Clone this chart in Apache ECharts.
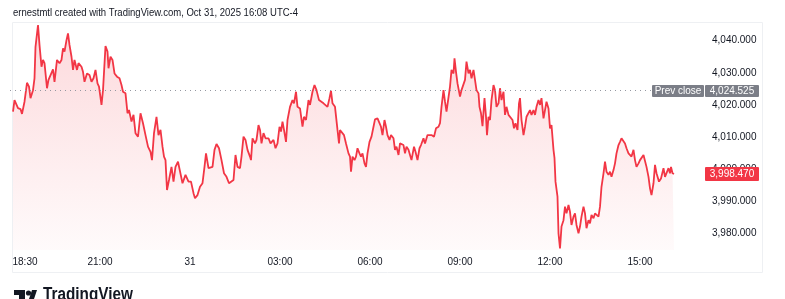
<!DOCTYPE html>
<html>
<head>
<meta charset="utf-8">
<script src="https://cdn.jsdelivr.net/npm/echarts@6/dist/echarts.min.js"></script>
<style>
html,body{margin:0;padding:0;background:#fff;}
#chart{width:785px;height:299px;}
</style>
</head>
<body>
<div id="chart"></div>
<script>
// minutes since 18:00 (Oct 30)
const timeMin = [
 6,9,13,16,21,24,29,34,38,41, 46,49,51,54,56,59,63,66,69,74,
 77,81,86,89,94,99,103,106,109,113, 116,119,123,126,129,134,137,143,146,149,
 154,159,163,167,171,175,178,183,186,191, 195,197,201,205,209,214,219,223,226,231,
 235,238,243,247,251,256,261,266,271,276, 281,284,288,293,297,301,305,308,311,314,
 318,323,327,331,336,
 340,345,351,357,362,367,370,375,380,385, 389,392,397,401,405,409,413,418,423,428,
 433,438,442,447,451,455,460,463,467,471, 475,480,482,485,490,493,497,500,503,507,
 511,517,521,527,531,535,539,542,545,548, 552,555,560,565,568,572,575,580,585,588,
 592,597,600,605,609,613,618,622,627,631, 635,639,642,645,650,655,658,
 660,663,668,672,677,680,682,685,689,692, 695,699,702,705,709,712,715,719,723,727,
 730,735,739,742,745,749,752,755,759,762, 767,770,773,777,780,783,787,790,793,797,
 800,803,808,811,815,819,822,827,830,835, 839,843,848,852,857,860,863,867,870,873,
 877,880,883,887,889,892,895,900,903,907, 910,913,917,920,923,927,930,933,937,939,
 942,945,949,952,954,957,960,963,967,970, 973,977,980,
 983,987,990,993,997,1001,1005,1008,1011,1015, 1018,1020,1023,1027,1030,1033,1037,1040,1043,1047,
 1050,1053,1057,1060,1063,1067,1070,1073,1077,1080, 1083,1087,1089,1091,1095,1097,1100,1103,1107,1110,
 1113,1117,1120,1123,1127,1130,1133,1137,1140,1143, 1147,1150,1153,1157,1160,1163,1167,1170,1173,1177,
 1180,1183,1187,1190,1193,1197,1200,1203,1207,1210, 1213,1217,1220,1223,1227,1230,1233,1237,1240,1243,
 1247,1250,1253,1257,1260,1263,1267,1270,1273,1277, 1280,1283,1287,1290,1293,1298,1302,1307,1310,1313,
 1317,1320,1322,1325,1328
];
const price = [
 4017.9,4021.5,4022.1,4019.0,4018.7,4017.2,4021.0,4026.9,4025.7,4022.1, 4024.6,4028.3,4038.1,4038.7,4044.9,4038.7,4031.9,4034.0,4033.0,4025.2,
 4027.8,4027.2,4031.1,4027.2,4034.0,4033.0,4034.0,4037.6,4036.6,4040.2, 4042.3,4038.7,4035.0,4030.9,4034.0,4030.9,4033.0,4031.9,4030.3,4027.2,
 4029.8,4029.3,4027.2,4028.3,4030.9,4026.7,4025.7,4020.0,4024.6,4038.3, 4036.6,4031.4,4035.0,4034.0,4029.8,4028.8,4028.3,4026.2,4024.1,4023.6,
 4017.4,4018.4,4014.8,4016.9,4011.2,4010.1,4017.4,4014.3,4010.6,4007.0, 4005.4,4002.8,4011.2,4016.3,4010.6,4012.2,4007.0,4003.9,4002.8,3993.5,
 3996.6,4000.7,3996.1,4000.7,4002.3,
 4002.3,3995.6,3998.2,3996.1,3996.1,3992.5,3990.9,3991.9,3994.5,3995.6, 4000.7,4004.9,4000.3,4000.3,4000.7,4006.0,4007.8,4006.5,4002.8,3998.7,
 3997.6,3995.6,3995.0,3996.6,4004.4,4000.7,4000.3,4003.9,4010.1,4009.1, 4006.0,4003.9,4002.8,4009.6,4008.0,4009.1,4013.7,4012.2,4008.0,4011.2,
 4009.6,4009.6,4008.0,4009.1,4006.5,4008.0,4013.2,4011.7,4014.8,4012.2, 4008.5,4015.3,4019.4,4021.5,4020.5,4024.1,4019.4,4018.9,4013.2,4016.3,
 4015.3,4021.5,4020.0,4024.1,4026.2,4024.6,4021.5,4022.1,4020.5,4021.0, 4019.4,4022.1,4024.4,4020.5,4019.4,4012.2,4008.0,
 4012.2,4012.7,4010.6,4008.0,4004.9,4003.9,3999.2,4003.9,4002.8,4003.9, 4006.5,4004.9,4003.9,4004.9,4001.8,4000.7,4004.9,4008.5,4010.1,4013.2,
 4015.5,4015.8,4014.3,4013.2,4010.6,4015.3,4013.2,4010.6,4009.1,4010.6, 4009.6,4006.0,4007.0,4004.4,4008.0,4008.5,4007.5,4004.9,4007.0,4006.0,
 4004.4,4002.8,4007.0,4005.4,4002.8,4006.5,4007.5,4009.6,4008.0,4010.6, 4010.1,4010.6,4010.1,4012.7,4013.2,4014.3,4019.4,4024.6,4021.0,4017.9,
 4017.9,4025.7,4030.9,4029.8,4034.5,4030.3,4026.7,4022.6,4024.6,4024.1, 4027.8,4033.5,4029.8,4030.9,4028.3,4030.9,4027.8,4024.6,4023.6,4019.4,
 4017.4,4013.4,4022.1,4016.3,4010.6,4016.3,4015.3,4021.5,4026.2,4024.6, 4019.4,4020.5,4025.2,
 4021.5,4024.1,4016.9,4019.4,4016.9,4017.4,4015.3,4012.7,4014.3,4012.2, 4020.5,4022.1,4015.3,4010.6,4013.2,4016.3,4015.8,4018.4,4016.9,4018.4,
 4016.9,4019.4,4021.5,4020.0,4022.1,4015.8,4018.4,4021.0,4018.9,4012.7, 4013.7,4006.0,4003.4,3996.1,3991.4,3980.0,3975.3,3982.1,3984.1,3988.3,
 3986.2,3988.8,3986.7,3982.6,3985.2,3986.2,3982.6,3980.0,3982.1,3985.2, 3988.3,3986.2,3981.6,3984.1,3983.1,3985.7,3984.7,3986.2,3986.7,3985.2,
 3988.3,3994.5,3998.7,4002.3,3999.2,3998.2,3999.2,3997.6,3999.7,4001.8, 4004.9,4007.5,4008.5,4009.6,4009.1,4008.0,4006.5,4004.9,4005.4,4003.9,
 4006.0,4002.8,4000.7,4001.8,4002.8,4002.3,4004.4,4003.9,4000.7,3997.6, 3994.0,3991.9,3995.6,4001.3,3998.7,3996.1,3997.1,4000.3,3997.6,3997.6,
 4000.3,3998.7,4000.7,3998.7,3998.47
];
const xTickValues = [30,180,360,540,720,900,1080,1260];
const xTickLabels = ['18:30','21:00','31','03:00','06:00','09:00','12:00','15:00'];
const yTickValues = [3980,3990,4000,4010,4020,4030,4040];
const prevClose = 4024.525;
const lastPrice = 3998.470;
const titleText = 'ernestmtl created with TradingView.com, Oct 31, 2025 16:08 UTC-4';

const FONT = "'Liberation Sans', sans-serif";
const fmt = v => v.toLocaleString('en-US',{minimumFractionDigits:3, maximumFractionDigits:3});

const chart = echarts.init(document.getElementById('chart'), null, {renderer:'canvas'});
const seriesData = timeMin.map((t,i)=>[t, price[i]]);

const option = {
  animation:false,
  backgroundColor:'#ffffff',
  grid:{left:10, top:22, width:690, height:228, containLabel:false},
  xAxis:{
    type:'value', min:0, max:1380,
    axisLine:{show:false}, axisTick:{show:false}, splitLine:{show:false},
    axisLabel:{
      customValues:xTickValues,
      formatter:v=>{const i=xTickValues.indexOf(v);return i>=0?xTickLabels[i]:'';},
      color:'#131722', fontSize:10, fontFamily:FONT, margin:7
    }
  },
  yAxis:{
    type:'value', position:'right', min:3974.8, max:4045.83, scale:true,
    axisLine:{show:false}, axisTick:{show:false}, splitLine:{show:false},
    axisLabel:{
      customValues:yTickValues,
      formatter:v=>fmt(v),
      color:'#131722', fontSize:10, fontFamily:FONT, margin:12, align:'left'
    }
  },
  series:[{
    type:'line', data:seriesData, showSymbol:false, symbol:'none',
    lineStyle:{color:'#f23645', width:1.8},
    itemStyle:{color:'#f23645'},
    areaStyle:{
      origin:'start',
      color:new echarts.graphic.LinearGradient(0,0,0,1,[
        {offset:0,color:'rgba(242,54,69,0.27)'},
        {offset:1,color:'rgba(242,54,69,0.03)'}
      ])
    },
    markLine:{
      silent:true, symbol:['none','none'],
      lineStyle:{color:'#9598a1', type:[1,4], width:1},
      label:{show:false},
      data:[{yAxis:prevClose}]
    },
    z:3
  }]
};
chart.setOption(option);

const yPrev = Math.round(chart.convertToPixel({yAxisIndex:0}, prevClose)) + 1;
const yLast = Math.round(chart.convertToPixel({yAxisIndex:0}, lastPrice));

chart.setOption({
  graphic:[
    // panel border
    {type:'rect', z:0, silent:true, shape:{x:12.5,y:22.5,width:750,height:250},
     style:{fill:'none', stroke:'#eef0f3', lineWidth:1}},
    // title
    {type:'text', x:13, y:7, scaleX:0.865, z:10,
     style:{text:titleText, fill:'#131722', font:"11px 'Liberation Sans', sans-serif"}},
    // prev close tag
    {type:'rect', z:20, shape:{x:652, y:yPrev-6, width:52, height:12, r:1},
     style:{fill:'#7b7e87'}},
    {type:'text', z:21, x:678, y:yPrev+0.5,
     style:{text:'Prev close', fill:'#ffffff', font:"10px "+FONT, align:'center', verticalAlign:'middle'}},
    {type:'rect', z:20, shape:{x:705, y:yPrev-6, width:54, height:12, r:1},
     style:{fill:'#7b7e87'}},
    {type:'text', z:21, x:732, y:yPrev+0.5,
     style:{text:fmt(prevClose), fill:'#ffffff', font:"10px "+FONT, align:'center', verticalAlign:'middle'}},
    // last price tag
    {type:'rect', z:20, shape:{x:705, y:yLast-7, width:54, height:14, r:1},
     style:{fill:'#f23645'}},
    {type:'text', z:21, x:732, y:yLast+0.5,
     style:{text:fmt(lastPrice), fill:'#ffffff', font:"10px "+FONT, align:'center', verticalAlign:'middle'}},
    // TradingView logo
    {type:'group', z:10, children:[
      {type:'rect', shape:{x:14,y:290,width:11,height:5}, style:{fill:'#131722'}},
      {type:'rect', shape:{x:19,y:290,width:6,height:12}, style:{fill:'#131722'}},
      {type:'circle', shape:{cx:28.5,cy:293,r:2.6}, style:{fill:'#131722'}},
      {type:'polygon', shape:{points:[[32,290],[37,290],[33,302],[28,302]]}, style:{fill:'#131722'}}
    ]},
    {type:'text', x:43, y:286, scaleX:0.85, z:10,
     style:{text:'TradingView', fill:'#131722', font:"bold 18px 'Liberation Sans', sans-serif"}}
  ]
});
</script>
</body>
</html>
